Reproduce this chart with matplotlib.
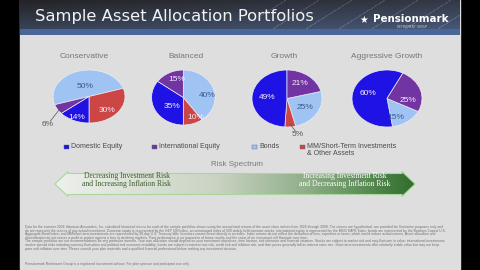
import numpy as np
import matplotlib
matplotlib.use('Agg')
import matplotlib.pyplot as plt
from matplotlib.patches import Rectangle, Polygon
from matplotlib.colors import LinearSegmentedColormap
from matplotlib.font_manager import FontProperties

# Data
portfolios = ['Conservative', 'Balanced', 'Growth', 'Aggressive Growth']
asset_classes = ['Domestic Equity', 'International Equity', 'Bonds',
                 'MM/Short-Term Investments\n& Other Assets']
domestic = [14, 35, 49, 60]
international = [6, 15, 21, 25]
bonds = [50, 40, 25, 15]
mm_other = [30, 10, 5, 0]

c_dom, c_intl, c_bonds, c_mm = '#1f12e4', '#7233a3', '#9fc4f4', '#cc4646'

W, H = 480, 270
fig = plt.figure(figsize=(4.8, 2.7), dpi=100)
bg = fig.add_axes([0, 0, 1, 1])
bg.axis('off')
sans = 'Liberation Sans'

# slide background
bg.add_patch(Rectangle((0, 0), W, H, color='black', zorder=0))
bg.add_patch(Rectangle((20, 0), 440, 269, color='#dedede', zorder=0.1))

# header banner
hy, hx = np.mgrid[0:36, 0:440].astype(float)
img = np.zeros((36, 440, 3))
t = np.clip(hy / 28, 0, 1)[..., None]
img[:] = (1 - t) * np.array([0.14, 0.14, 0.15]) + t * np.array([0.22, 0.26, 0.34])
img += (hx / 440)[..., None] * np.array([0.06, 0.08, 0.12])
streak = (((hx + hy * 1.6) % 33) < 2.0) & (hx > 240)
img[streak] += 0.10
img[(hy >= 29) & (hy < 35)] = [0.29, 0.40, 0.60]
img[hy >= 35] = [0.86, 0.88, 0.91]
bg.imshow(np.clip(img, 0, 1), extent=(20, 460, 36, 0), aspect='auto', zorder=0.2)
bg.text(35, 16.5, 'Sample Asset Allocation Portfolios', fontsize=11.8, color='#f2f2f2',
        family='DejaVu Sans', va='center', ha='left', zorder=1)
bg.text(373, 19.5, 'Pensionmark', fontsize=7.4, color='white', weight='bold',
        family='DejaVu Sans', va='center', ha='left', zorder=1)
bg.text(412, 27.0, 'RETIREMENT GROUP', fontsize=2.2, color='#c8ccd8',
        family='DejaVu Sans', va='center', ha='center', zorder=1)
bg.text(364, 19.5, '★', fontsize=7, color='white', family='DejaVu Sans',
        va='center', ha='center', zorder=1)

# pies (slice order: bonds, mm, domestic, international)
centers = [(89, 96.5), (183.3, 97.5), (287, 98.5), (387, 98.5)]
radii = [(36, 26.5), (31.7, 27.5), (35, 28.5), (35, 28.5)]
starts = [198, 90, 14.4, -27]
title_x = [84, 186, 284, 387]
label_xy = [
    [(-0.11, 0.36), (0.5, -0.51), (-0.33, -0.81), (-1.14, -1.04)],
    [(0.75, 0.09), (0.4, -0.74), (-0.36, -0.31), (-0.2, 0.64)],
    [(0.51, -0.30), (0.31, -1.25), (-0.57, 0.05), (0.37, 0.54)],
    [(0.26, -0.66), None, (-0.54, 0.19), (0.6, -0.08)],
]
pad = 1.06
for i in range(4):
    cx, cy = centers[i]
    rx, ry = radii[i]
    vals = [bonds[i], mm_other[i], domestic[i], international[i]]
    cols = [c_bonds, c_mm, c_dom, c_intl]
    keep = [k for k in range(4) if vals[k] > 0]
    ax = fig.add_axes([(cx - rx * pad) / W, 1 - (cy + ry * pad) / H,
                       2 * rx * pad / W, 2 * ry * pad / H])
    wedges, _, autotexts = ax.pie([vals[k] for k in keep], colors=[cols[k] for k in keep],
                                  startangle=starts[i], counterclock=False,
                                  autopct=lambda p: f'{p:.0f}%',
                                  wedgeprops=dict(edgecolor='#ecebf3', linewidth=0.5),
                                  textprops=dict(fontsize=6, family=sans))
    ax.set_xlim(-pad, pad)
    ax.set_ylim(-pad, pad)
    ax.set_aspect('auto')
    ax.axis('off')
    for w, txt, k in zip(wedges, autotexts, keep):
        lx, ly = label_xy[i][k]
        txt.set_position((lx, ly))
        txt.set_ha('center')
        txt.set_va('center')
        if np.hypot(lx, ly) > 1:
            txt.set_color('#5a5a5a')
            th = np.deg2rad((w.theta1 + w.theta2) / 2)
            ax.annotate('', xy=(0.9 * np.cos(th), 0.9 * np.sin(th)), xytext=(lx, ly),
                        arrowprops=dict(arrowstyle='-', color='#505050', lw=0.5,
                                        shrinkA=3, shrinkB=0), annotation_clip=False)
        elif k == 0:
            txt.set_color('#3a5a8c')
        else:
            txt.set_color('#f4eef8')
    bg.text(title_x[i], 57, portfolios[i], fontsize=6, color='#777777', family=sans,
            ha='center', va='center')

# legend
leg_x = [64, 152, 252, 300]
leg_cols = [c_dom, c_intl, c_bonds, c_mm]
for x, name, c in zip(leg_x, asset_classes, leg_cols):
    bg.add_patch(Rectangle((x, 144.5), 5, 4, facecolor=c, edgecolor='#606080',
                           linewidth=0.3, zorder=2))
    bg.text(x + 7, 143.2, name, fontsize=5, color='#4a4a4a', family=sans,
            ha='left', va='top', linespacing=1.0)

bg.text(237, 164, 'Risk Spectrum', fontsize=5.8, color='#7a7a7a', family=sans,
        ha='center', va='center')

# risk arrow
pts = [(55, 184), (68, 171.5), (68, 173.5), (402, 173.5), (402, 171.5), (415, 184),
       (402, 196.5), (402, 194.5), (68, 194.5), (68, 196.5)]
arrow = Polygon(pts, closed=True, facecolor='none', edgecolor='#a9d69a',
                linewidth=0.8, zorder=3)
bg.add_patch(arrow)
cmap = LinearSegmentedColormap.from_list('risk', [(0, '#eef0ec'), (0.45, '#c9d3c3'),
                                                  (0.7, '#8fae88'), (1, '#2f6e2c')])
grad = np.linspace(0, 1, 256)[None, :]
gim = bg.imshow(grad, cmap=cmap, extent=(55, 415, 197, 171), aspect='auto', zorder=2)
gim.set_clip_path(arrow)
bg.text(127, 180.3, 'Decreasing Investment Risk\nand Increasing Inflation Risk',
        fontsize=5.5, color='#3b5e2b', family='Liberation Serif', ha='center',
        va='center', linespacing=1.05, zorder=4)
bg.text(345, 180.3, 'Increasing Investment Risk\nand Decreasing Inflation Risk',
        fontsize=5.5, color='white', family='Liberation Serif', ha='center',
        va='center', linespacing=1.05, zorder=4)

# disclaimer
para1 = ("Data for the summer 2009. Ibbotson Associates, Inc. calculated historical returns for each "
         "of the sample portfolios shown using the annual total returns of the asset class indices from "
         "1926 through 2008. The returns are hypothetical, are provided for illustrative purposes only and "
         "do not represent the returns of any actual investment. Domestic equity is represented by the "
         "S&P 500 Index, an unmanaged index of 500 widely held common stocks; international equity is "
         "represented by the MSCI EAFE Index; bonds are represented by the Barclays Capital U.S. Aggregate "
         "Bond Index; and MM/short-term investments are represented by 30-day U.S. Treasury bills. Investors "
         "cannot invest directly in an index. Index returns do not reflect the deduction of fees, expenses "
         "or taxes, which would reduce actual returns. Asset allocation and diversification do not ensure "
         "a profit or protect against a loss in declining markets. Past performance is no guarantee of "
         "future results and the value of an investment will fluctuate over time.")
para2 = ("The sample portfolios are not recommendations for any particular investor. Your own allocation "
         "should depend on your investment objectives, time horizon, risk tolerance and financial "
         "situation. Stocks are subject to market risk and may fluctuate in value; international "
         "investments involve special risks including currency fluctuation and political and economic "
         "instability; bonds are subject to interest rate risk, credit risk and inflation risk, and their "
         "prices generally fall as interest rates rise. Short-term investments offer relatively stable "
         "value but may not keep pace with inflation over time. Please consult your plan materials and a "
         "qualified financial professional before making any investment decision.")
last = ("Pensionmark Retirement Group is a registered investment adviser. For plan sponsor and "
        "participant use only.")

renderer = fig.canvas.get_renderer()
prop = FontProperties(family=sans, size=2.4)


def wrap(text, width):
    lines, cur = [], ''
    for word in text.split():
        trial = (cur + ' ' + word).strip()
        if cur and renderer.get_text_width_height_descent(trial, prop, ismath=False)[0] > width:
            lines.append(cur)
            cur = word
        else:
            cur = trial
    lines.append(cur)
    return lines


y = 227
for para in (para1, para2):
    for line in wrap(para, 422):
        bg.text(25, y, line, fontproperties=prop, color='#707070', ha='left', va='center')
        y += 3.6
bg.text(25, 264.5, last, fontproperties=prop, color='#707070', ha='left', va='center')

bg.set_xlim(0, W)
bg.set_ylim(H, 0)
fig.savefig('out.png', dpi=100)
